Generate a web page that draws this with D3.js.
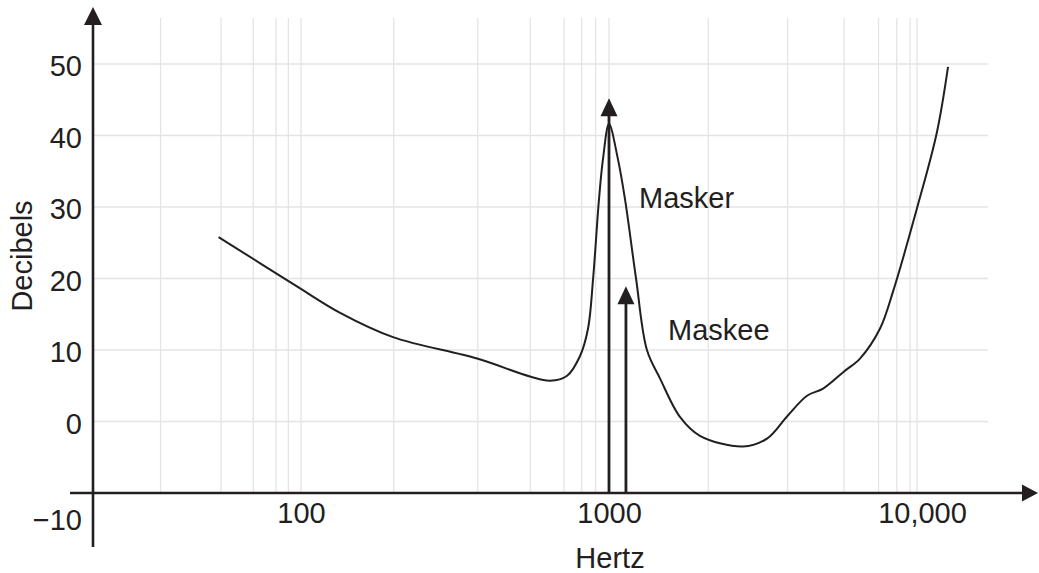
<!DOCTYPE html>
<html>
<head>
<meta charset="utf-8">
<script src="https://cdn.jsdelivr.net/npm/d3@7"></script>
<style>
  html, body { margin: 0; padding: 0; background: #fff; }
  svg { display: block; font-family: "Liberation Sans", Arial, sans-serif; }
</style>
</head>
<body>
<svg id="chart" width="1039" height="573"></svg>
<script>
// values
const dbTicks = [-10, 0, 10, 20, 30, 40, 50];
const dbGrid = [0, 10, 20, 30, 40, 50];
const hzTicks = [100, 1000, 10000];
const hzTickLabels = ["100", "1000", "10,000"];
const hzGrid = [35, 55, 70, 83, 91, 100, 200, 375, 555, 715, 815, 905, 1000,
                2100, 3800, 5800, 7500, 8600, 9500, 10000];

const curveHz = [54, 97, 134, 199, 373, 554, 643, 731, 806, 855, 888, 928, 956, 1000,
                 1069, 1127, 1224, 1328, 1465, 1702, 1973, 2722, 3258, 3784, 4395,
                 4955, 5797, 6530, 7586, 8363, 10070, 11610, 12610];
const curveDb = [25.8, 18.9, 15.2, 11.8, 8.8, 6.3, 5.7, 6.4, 9.2, 13, 20, 31.1, 36.7, 41.6,
                 36.7, 31.1, 20, 10, 6, 0.6, -2, -3.5, -2.4, 0.7, 3.6,
                 4.6, 7, 8.8, 13, 18.2, 30.3, 40.5, 49.6];

const toneNames = ["Masker", "Maskee"];
const toneHz = [1000, 1135];
const toneDb = [45.2, 18.9];

const ink = "#231f20";
const fontSize = 29;
const svg = d3.select("#chart");

const x = d3.scaleLog().domain([100, 10000]).range([301, 917]);
const y = d3.scaleLinear().domain([-10, 50]).range([493, 64]);

const axisLeftX = 93, gridRight = 988, gridTop = 18;

// grid
svg.append("g")
  .selectAll("line")
  .data(hzGrid)
  .join("line")
  .attr("x1", d => x(d)).attr("x2", d => x(d))
  .attr("y1", gridTop).attr("y2", y(-10))
  .attr("stroke", "#e4e4e4").attr("stroke-width", 1.3);

svg.append("g")
  .selectAll("line")
  .data(dbGrid)
  .join("line")
  .attr("x1", axisLeftX).attr("x2", gridRight)
  .attr("y1", d => y(d)).attr("y2", d => y(d))
  .attr("stroke", "#e4e4e4").attr("stroke-width", 1.3);

// curve
const line = d3.line()
  .x(d => x(d[0]))
  .y(d => y(d[1]))
  .curve(d3.curveCatmullRom.alpha(0.5));

svg.append("path")
  .datum(curveHz.map((h, i) => [h, curveDb[i]]))
  .attr("fill", "none")
  .attr("stroke", ink)
  .attr("stroke-width", 2)
  .attr("d", line);

// tone arrows
toneHz.forEach((h, i) => {
  const cx = x(h), tip = y(toneDb[i]);
  svg.append("line")
    .attr("x1", cx).attr("x2", cx)
    .attr("y1", y(-10)).attr("y2", tip + 14)
    .attr("stroke", ink).attr("stroke-width", 2.8);
  svg.append("path")
    .attr("d", `M${cx},${tip} L${cx - 8.5},${tip + 18} L${cx + 8.5},${tip + 18} Z`)
    .attr("fill", ink);
});

svg.append("text").attr("x", 639).attr("y", 208)
  .attr("font-size", fontSize).attr("fill", ink).text(toneNames[0]);
svg.append("text").attr("x", 668).attr("y", 340)
  .attr("font-size", fontSize).attr("fill", ink).text(toneNames[1]);

// axes
svg.append("line")
  .attr("x1", axisLeftX).attr("x2", axisLeftX)
  .attr("y1", 547).attr("y2", 20)
  .attr("stroke", ink).attr("stroke-width", 2.6);
svg.append("path")
  .attr("d", `M${axisLeftX},7 L${axisLeftX - 9},25 L${axisLeftX + 9},25 Z`)
  .attr("fill", ink);

svg.append("line")
  .attr("x1", 70).attr("x2", 1026)
  .attr("y1", y(-10)).attr("y2", y(-10))
  .attr("stroke", ink).attr("stroke-width", 2.6);
svg.append("path")
  .attr("d", `M1038,${y(-10)} L1022,${y(-10) - 8.5} L1022,${y(-10) + 8.5} Z`)
  .attr("fill", ink);

const yAxis = svg.append("g")
  .attr("transform", `translate(${axisLeftX},0)`)
  .call(d3.axisLeft(y).tickValues(dbTicks).tickSize(0).tickPadding(11)
    .tickFormat(d => d < 0 ? "\u2212" + Math.abs(d) : d));
yAxis.select(".domain").remove();
yAxis.selectAll("text")
  .attr("font-size", fontSize)
  .attr("font-family", "Liberation Sans, Arial, sans-serif")
  .attr("fill", ink)
  .attr("dy", d => d === -10 ? "1.25em" : "0.4em");

const xAxis = svg.append("g")
  .attr("transform", `translate(0,${y(-10)})`)
  .call(d3.axisBottom(x).tickValues(hzTicks).tickSize(0).tickPadding(9)
    .tickFormat((d, i) => hzTickLabels[i]));
xAxis.select(".domain").remove();
xAxis.selectAll("text")
  .attr("font-size", fontSize)
  .attr("font-family", "Liberation Sans, Arial, sans-serif")
  .attr("fill", ink)
  .attr("dx", (d, i) => i === 2 ? 5 : 0);

// axis titles
svg.append("text")
  .attr("x", 610).attr("y", 568)
  .attr("text-anchor", "middle")
  .attr("font-size", fontSize).attr("fill", ink)
  .text("Hertz");

svg.append("text")
  .attr("transform", "translate(32,256) rotate(-90)")
  .attr("text-anchor", "middle")
  .attr("font-size", fontSize).attr("fill", ink)
  .text("Decibels");
</script>
</body>
</html>
